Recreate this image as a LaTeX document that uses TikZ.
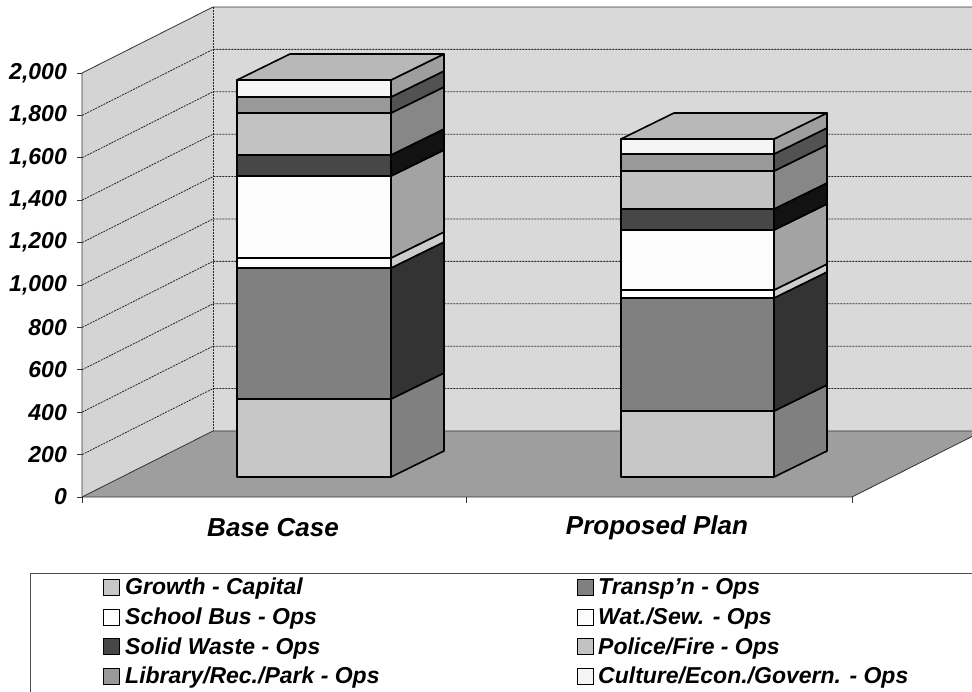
\documentclass[tikz,border=0pt]{standalone}
\usepackage{fontspec}
\setmainfont{Liberation Sans}
\definecolor{wallc}{gray}{0.85}
\definecolor{sidewallc}{gray}{0.83}
\definecolor{floorc}{gray}{0.62}
\definecolor{gridc}{gray}{0.15}
\definecolor{fGrowth}{gray}{0.78}
\definecolor{sGrowth}{gray}{0.50}
\definecolor{fTransp}{gray}{0.50}
\definecolor{sTransp}{gray}{0.20}
\definecolor{fSchool}{gray}{1.00}
\definecolor{sSchool}{gray}{0.80}
\definecolor{fWater}{gray}{0.99}
\definecolor{sWater}{gray}{0.64}
\definecolor{fSolid}{gray}{0.28}
\definecolor{sSolid}{gray}{0.07}
\definecolor{fPolice}{gray}{0.76}
\definecolor{sPolice}{gray}{0.53}
\definecolor{fLibrary}{gray}{0.60}
\definecolor{sLibrary}{gray}{0.32}
\definecolor{fCulture}{gray}{0.96}
\definecolor{sCulture}{gray}{0.62}
\definecolor{topc}{gray}{0.72}
\newcommand{\mybarseg}[6]{%
  \fill[#5] (#1,#3) rectangle (#2,#4);
  \fill[#6] (#2,#3) -- ++(53,-26) -- (#2+53,#4-26) -- (#2,#4) -- cycle;
  \draw[barline] (#1,#3) rectangle (#2,#4);
  \draw[barline] (#2,#3) -- ++(53,-26) -- (#2+53,#4-26) -- (#2,#4);
}
\newcommand{\mybartop}[3]{%
  \filldraw[fill=topc,barline] (#1,#3) -- ++(53,-26) -- (#2+53,#3-26) -- (#2,#3) -- cycle;
}
\tikzset{
  barline/.style={draw=black,line width=1.6pt,line join=round},
  gridline/.style={draw=gridc,line width=0.8pt,dash pattern=on 2pt off 1pt},
  edgeline/.style={draw=black!80,line width=0.8pt},
  vallabel/.style={anchor=east,inner sep=0pt,font=\fontsize{23}{25}\selectfont\bfseries\itshape},
  catlabel/.style={anchor=center,inner sep=0pt,font=\fontsize{26}{28}\selectfont\bfseries\itshape},
  leglabel/.style={anchor=base west,inner sep=0pt,font=\fontsize{23}{25}\selectfont\bfseries\itshape},
  legkey/.style={draw=black,line width=0.8pt,minimum size=16pt,inner sep=0pt},
}
\begin{document}
\begin{tikzpicture}[x=1pt,y=-1pt]
\useasboundingbox (0,0) rectangle (972,692);
\clip (0,0) rectangle (972,692);
% walls and floor
\fill[wallc] (213,7) rectangle (990,431);
\fill[sidewallc] (82,73) -- (213,7) -- (213,431) -- (82,497) -- cycle;
\fill[floorc] (82,497) -- (852,497) -- (983,431) -- (213,431) -- cycle;
% grid
\foreach \k in {1,...,9} {
  \draw[gridline] (82,497-42.4*\k) -- (213,431-42.4*\k) -- (990,431-42.4*\k);
}
\draw[edgeline] (82,73) -- (213,7) -- (990,7);
\draw[gridline] (213,7) -- (213,431);
\draw[edgeline] (82,497) -- (213,431) -- (990,431);
\draw[edgeline] (82,73) -- (82,497) -- (852,497) -- (983,431);
\foreach \k in {0,...,10} { \draw[edgeline] (77,497-42.4*\k) -- (82,497-42.4*\k); }
\foreach \xx in {82,466,852} { \draw[edgeline] (\xx,497) -- (\xx,503); }
% Base Case bar
\mybarseg{237}{391}{477}{399}{fGrowth}{sGrowth}
\mybarseg{237}{391}{399}{268}{fTransp}{sTransp}
\mybarseg{237}{391}{268}{258}{fSchool}{sSchool}
\mybarseg{237}{391}{258}{176}{fWater}{sWater}
\mybarseg{237}{391}{176}{155}{fSolid}{sSolid}
\mybarseg{237}{391}{155}{113}{fPolice}{sPolice}
\mybarseg{237}{391}{113}{97}{fLibrary}{sLibrary}
\mybarseg{237}{391}{97}{80}{fCulture}{sCulture}
\mybartop{237}{391}{80}
% Proposed Plan bar
\mybarseg{621}{774}{477}{411}{fGrowth}{sGrowth}
\mybarseg{621}{774}{411}{298}{fTransp}{sTransp}
\mybarseg{621}{774}{298}{290}{fSchool}{sSchool}
\mybarseg{621}{774}{290}{230}{fWater}{sWater}
\mybarseg{621}{774}{230}{209}{fSolid}{sSolid}
\mybarseg{621}{774}{209}{171}{fPolice}{sPolice}
\mybarseg{621}{774}{171}{154}{fLibrary}{sLibrary}
\mybarseg{621}{774}{154}{139}{fCulture}{sCulture}
\mybartop{621}{774}{139}
% value labels
\foreach \v [count=\k from 0] in {0,200,400,600,800,{1,000},{1,200},{1,400},{1,600},{1,800},{2,000}} {
  \node[vallabel] (v\k) at (67,497-42.4*\k) {\v};
}
% category labels
\node[catlabel] (base) at (273,528) {Base Case};
\node[catlabel] (prop) at (657,528) {Proposed Plan};
% legend
\draw[draw=black!70,line width=0.8pt] (990,573) -- (30,573) -- (30,700);
\node[legkey,fill=fGrowth] (k1) at (111,587) {};
\node[leglabel] (l1) at (125,594.5) {Growth - Capital};
\node[legkey,fill=fSchool] (k3) at (111,617) {};
\node[leglabel] (l3) at (125,624.5) {School Bus - Ops};
\node[legkey,fill=fSolid] (k5) at (111,646.5) {};
\node[leglabel] (l5) at (125,654) {Solid Waste - Ops};
\node[legkey,fill=fLibrary] (k7) at (111,676) {};
\node[leglabel] (l7) at (125,683.5) {Library/Rec./Park - Ops};
\node[legkey,fill=fTransp] (k2) at (585,587) {};
\node[leglabel] (l2) at (598,594.5) {Transp{\char"0027}n - Ops};
\node[legkey,fill=fWater] (k4) at (585,617) {};
\node[leglabel] (l4) at (598,624.5) {Wat./Sew. - Ops};
\node[legkey,fill=fPolice] (k6) at (585,646.5) {};
\node[leglabel] (l6) at (598,654) {Police/Fire - Ops};
\node[legkey,fill=fCulture] (k8) at (585,676) {};
\node[leglabel] (l8) at (598,683.5) {Culture/Econ./Govern. - Ops};
\end{tikzpicture}
\end{document}
